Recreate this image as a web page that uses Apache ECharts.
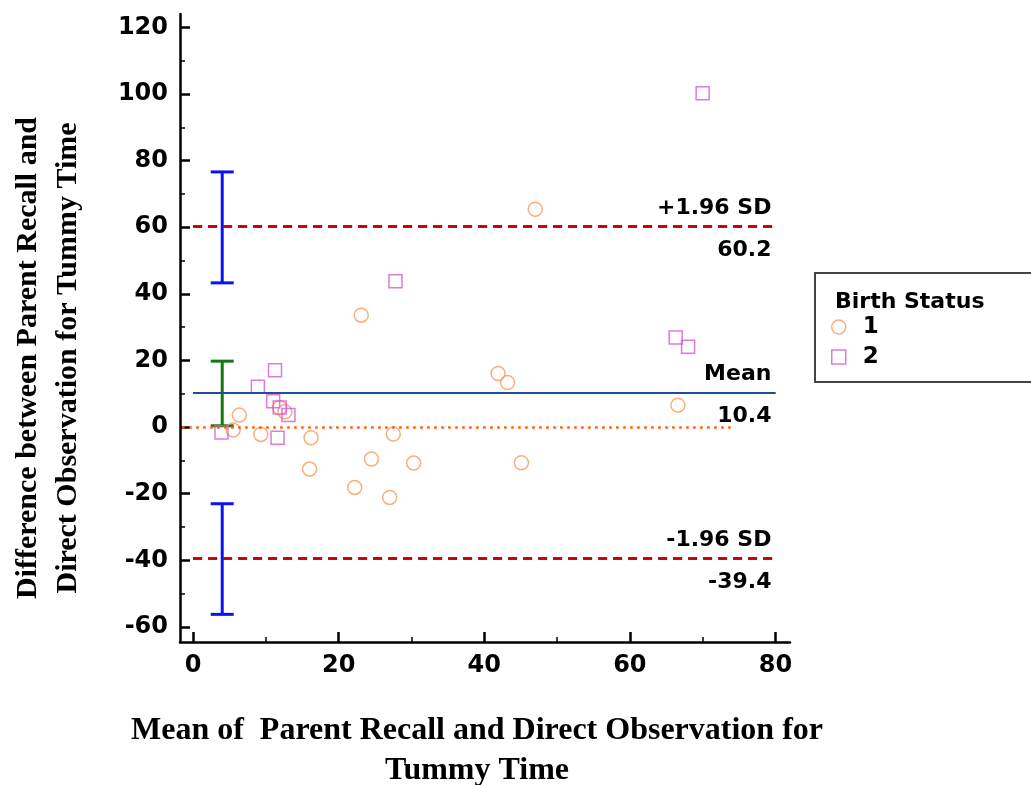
<!DOCTYPE html>
<html>
<head>
<meta charset="utf-8">
<script src="https://cdn.jsdelivr.net/npm/echarts@6/dist/echarts.min.js"></script>
<style>
html,body{margin:0;padding:0;background:#fff;}
#chart{width:1031px;height:785px;}
</style>
</head>
<body>
<div id="chart"></div>
<script>
// ---- data ----
const xTickValues = [0, 20, 40, 60, 80];
const xMinorValues = [10, 30, 50, 70];
const yTickValues = [-60, -40, -20, 0, 20, 40, 60, 80, 100, 120];
const yMinorValues = [-50, -30, -10, 10, 30, 50, 70, 90, 110];

// Birth status 1 (circles): [mean, difference]
const birth1 = [
  [6.35, 3.6], [5.5, -0.9], [9.3, -2.2], [11.9, 5.8], [12.6, 4.6],
  [16.2, -3.2], [16.0, -12.6], [23.1, 33.6], [22.2, -18.1], [24.5, -9.6],
  [27.5, -2.1], [27.0, -21.1], [30.3, -10.8], [41.9, 16.1], [43.2, 13.4],
  [47.0, 65.4], [45.1, -10.7], [66.6, 6.6]
];
// Birth status 2 (squares)
const birth2 = [
  [3.9, -1.6], [8.9, 12.1], [11.25, 17.1], [11.0, 7.8], [11.9, 5.9],
  [13.1, 3.6], [11.6, -3.2], [27.8, 43.8], [66.3, 26.9], [68.0, 24.1],
  [70.0, 100.2]
];

const meanDiff = 10.4;
const upperLoA = 60.2;
const lowerLoA = -39.4;
const lineXRange = [0, 80];
const zeroLineXRange = [-1.5, 73.9];

// confidence intervals: [x, low, high]
const loaCI = [[4, 43.3, 76.6], [4, -56.2, -23.0]];
const meanCI = [[4, 0.4, 19.8]];

const legendNames = ['1', '2'];
const legendTitle = 'Birth Status';
const xTitle = 'Mean of  Parent Recall and Direct Observation for\nTummy Time';
const yTitle = 'Difference between Parent Recall and\nDirect Observation for Tummy Time';

// ---- chart ----
const chart = echarts.init(document.getElementById('chart'), null, {renderer: 'canvas'});
const sans = 'DejaVu Sans, Arial, sans-serif';
const serif = 'Liberation Serif, Times New Roman, serif';
const orange = '#F79A5E';
const magenta = '#D45AD4';

function ciRender(color) {
  return function (params, api) {
    const x = api.value(0), lo = api.value(1), hi = api.value(2);
    const pTop = api.coord([x, hi]);
    const pBot = api.coord([x, lo]);
    const hw = 11.5;
    const st = {stroke: color, lineWidth: 3, fill: 'none'};
    return {
      type: 'group',
      children: [
        {type: 'line', shape: {x1: pTop[0], y1: pTop[1], x2: pBot[0], y2: pBot[1]}, style: st},
        {type: 'line', shape: {x1: pTop[0] - hw, y1: pTop[1], x2: pTop[0] + hw, y2: pTop[1]}, style: st},
        {type: 'line', shape: {x1: pBot[0] - hw, y1: pBot[1], x2: pBot[0] + hw, y2: pBot[1]}, style: st}
      ]
    };
  };
}

const lblTop = {position: 'insideEndTop', distance: [4, 7], color: '#000', fontFamily: sans, fontWeight: 'bold', fontSize: 22};
const lblBot = {position: 'insideEndBottom', distance: [4, 13], color: '#000', fontFamily: sans, fontWeight: 'bold', fontSize: 22};

function hLine(y, range, top, bot) {
  return [
    [{coord: [range[0], y], label: Object.assign({formatter: top}, lblTop)}, {coord: [range[1], y]}],
    [{coord: [range[0], y], label: Object.assign({formatter: bot}, lblBot)}, {coord: [range[1], y]}]
  ];
}

const option = {
  backgroundColor: '#fff',
  animation: false,
  grid: {left: 180, top: 14, width: 610, height: 628, containLabel: false, outerBoundsMode: 'none'},
  title: {
    text: legendTitle, left: 830, top: 286,
    textStyle: {fontFamily: sans, fontWeight: 'bold', fontSize: 22, color: '#000'}
  },
  legend: {
    orient: 'vertical', left: 815, top: 273,
    padding: [42, 220, 13, 16],
    itemGap: 6, itemWidth: 14, itemHeight: 14,
    borderColor: '#444', borderWidth: 2, backgroundColor: '#fff',
    textStyle: {fontFamily: sans, fontWeight: 'bold', fontSize: 23, color: '#000', lineHeight: 24, padding: [0, 0, 0, 12]},
    data: [
      {name: legendNames[0], icon: 'circle', itemStyle: {color: 'rgba(0,0,0,0)', borderColor: orange, borderWidth: 1.5}},
      {name: legendNames[1], icon: 'rect', itemStyle: {color: 'rgba(0,0,0,0)', borderColor: magenta, borderWidth: 1.5}}
    ],
    selectedMode: false
  },
  xAxis: [{
    type: 'value', min: -1.8, max: 82,
    name: xTitle, nameLocation: 'middle', nameGap: 69,
    nameTextStyle: {fontFamily: serif, fontWeight: 'bold', fontSize: 32, color: '#000', lineHeight: 40, padding: [0, 16, 0, 0]},
    axisLine: {show: true, onZero: false, lineStyle: {color: '#000', width: 2.5}},
    axisTick: {show: true, inside: true, length: 10, customValues: xTickValues, lineStyle: {color: '#000', width: 2.5}},
    axisLabel: {customValues: xTickValues, margin: 12, fontFamily: sans, fontWeight: 'bold', fontSize: 24, color: '#000'},
    splitLine: {show: false}
  }, {
    type: 'value', min: -1.8, max: 82, position: 'bottom', offset: 0,
    axisLine: {show: false, onZero: false},
    axisTick: {show: true, inside: true, length: 5, customValues: xMinorValues, lineStyle: {color: '#000', width: 1.5}},
    axisLabel: {show: false},
    splitLine: {show: false}
  }],
  yAxis: [{
    type: 'value', min: -64.5, max: 124,
    name: yTitle, nameLocation: 'middle', nameGap: 92, nameRotate: 90,
    nameTextStyle: {fontFamily: serif, fontWeight: 'bold', fontSize: 30, color: '#000', lineHeight: 40, padding: [0, 60, 0, 0]},
    axisLine: {show: true, onZero: false, lineStyle: {color: '#000', width: 2.5}},
    axisTick: {show: true, inside: true, length: 10, customValues: yTickValues, lineStyle: {color: '#000', width: 2.5}},
    axisLabel: {customValues: yTickValues, margin: 12, fontFamily: sans, fontWeight: 'bold', fontSize: 24, color: '#000'},
    splitLine: {show: false}
  }, {
    type: 'value', min: -64.5, max: 124, position: 'left', offset: 0,
    axisLine: {show: false, onZero: false},
    axisTick: {show: true, inside: true, length: 5, customValues: yMinorValues, lineStyle: {color: '#000', width: 1.5}},
    axisLabel: {show: false},
    splitLine: {show: false}
  }],
  series: [
    {
      type: 'line', data: [], silent: true, symbol: 'none',
      markLine: {
        silent: true, symbol: 'none', animation: false,
        lineStyle: {color: '#C00000', width: 2.5, type: [9, 6]},
        data: hLine(upperLoA, lineXRange, '+1.96 SD', String(upperLoA)).concat(
              hLine(lowerLoA, lineXRange, '-1.96 SD', String(lowerLoA)))
      }
    },
    {
      type: 'line', data: [], silent: true, symbol: 'none',
      markLine: {
        silent: true, symbol: 'none', animation: false,
        lineStyle: {color: '#1F4E9A', width: 2, type: 'solid'},
        data: hLine(meanDiff, lineXRange, 'Mean', String(meanDiff))
      }
    },
    {
      type: 'line', data: [], silent: true, symbol: 'none',
      markLine: {
        silent: true, symbol: 'none', animation: false,
        lineStyle: {color: '#FF5A0A', width: 2.5, type: [2.5, 4.5]},
        label: {show: false},
        data: [[{coord: [zeroLineXRange[0], 0]}, {coord: [zeroLineXRange[1], 0]}]]
      }
    },
    {
      type: 'custom', data: loaCI, silent: true, renderItem: ciRender('#0A14F0'),
      encode: {x: 0, y: [1, 2]}
    },
    {
      type: 'custom', data: meanCI, silent: true, renderItem: ciRender('#137A13'),
      encode: {x: 0, y: [1, 2]}
    },
    {
      name: legendNames[0], type: 'scatter', data: birth1, symbol: 'circle', symbolSize: 14, silent: true,
      itemStyle: {color: 'rgba(0,0,0,0)', borderColor: orange, borderWidth: 1.5}
    },
    {
      name: legendNames[1], type: 'scatter', data: birth2, symbol: 'rect', symbolSize: 13, silent: true,
      itemStyle: {color: 'rgba(0,0,0,0)', borderColor: magenta, borderWidth: 1.5}
    }
  ]
};
chart.setOption(option);
</script>
</body>
</html>
